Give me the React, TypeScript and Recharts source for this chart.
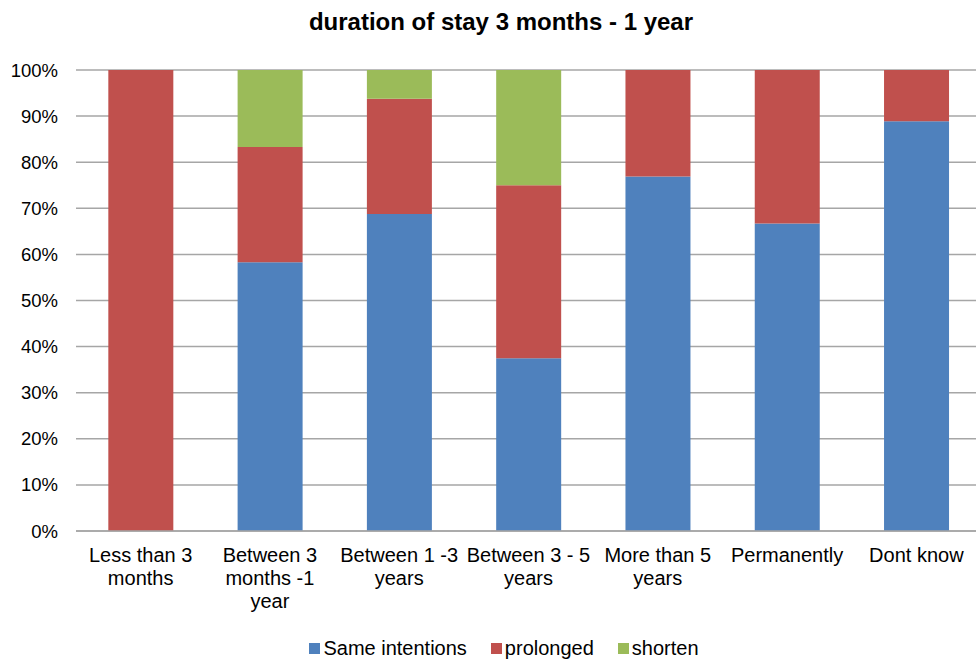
import {
  BarChart,
  Bar,
  XAxis,
  YAxis,
  CartesianGrid,
  Legend,
} from "recharts";

const categories = [
  "Less than 3\nmonths",
  "Between 3\nmonths -1\nyear",
  "Between 1 -3\nyears",
  "Between 3 - 5\nyears",
  "More than 5\nyears",
  "Permanently",
  "Dont know",
];
const sameIntentions = [0, 58.3, 68.75, 37.5, 76.9, 66.7, 88.9];
const prolonged = [100, 25, 25, 37.5, 23.1, 33.3, 11.1];
const shorten = [0, 16.7, 6.25, 25, 0, 0, 0];
const yTicks = [0, 10, 20, 30, 40, 50, 60, 70, 80, 90, 100];

const data = categories.map((c, i) => ({
  name: c,
  same: sameIntentions[i],
  prolonged: prolonged[i],
  shorten: shorten[i],
}));

const font = "'Liberation Sans', Arial, sans-serif";

const series = [
  { key: "same", label: "Same intentions", color: "#4F81BD" },
  { key: "prolonged", label: "prolonged", color: "#C0504D" },
  { key: "shorten", label: "shorten", color: "#9BBB59" },
];

function CategoryTick(props: any) {
  const { x, y, payload } = props;
  const lines = String(payload.value).split("\n");
  return (
    <text x={x} y={y} textAnchor="middle" fill="#000" fontSize={20} fontFamily={font}>
      {lines.map((l, i) => (
        <tspan key={i} x={x} dy={23}>
          {l}
        </tspan>
      ))}
    </text>
  );
}

function LegendContent() {
  return (
    <div
      style={{
        display: "flex",
        justifyContent: "center",
        gap: 24,
        fontFamily: font,
        fontSize: 20,
        paddingTop: 6,
        paddingLeft: 32,
        width: 976,
        boxSizing: "border-box",
      }}
    >
      {series.map((s) => (
        <span key={s.key} style={{ display: "flex", alignItems: "center" }}>
          <span
            style={{
              width: 11,
              height: 11,
              background: s.color,
              display: "inline-block",
              marginRight: 3,
            }}
          />
          {s.label}
        </span>
      ))}
    </div>
  );
}

export default function App() {
  return (
    <div
      style={{
        position: "absolute",
        left: 0,
        top: 0,
        width: 976,
        height: 664,
        overflow: "hidden",
        background: "#fff",
      }}
    >
      <div
        style={{
          position: "absolute",
          left: 501,
          top: 8,
          transform: "translateX(-50%)",
          fontFamily: font,
          fontWeight: "bold",
          fontSize: 24,
          whiteSpace: "nowrap",
          zIndex: 1,
        }}
      >
        duration of stay 3 months - 1 year
      </div>
      <BarChart
        width={981}
        height={664}
        data={data}
        margin={{ top: 70, right: 0, bottom: 0, left: 0 }}
        barCategoryGap="25%"
      >
        <CartesianGrid vertical={false} stroke="#a6a6a6" strokeWidth={1.5} />
        <XAxis
          dataKey="name"
          height={100}
          interval={0}
          tickLine={false}
          axisLine={{ stroke: "#a6a6a6", strokeWidth: 1.5 }}
          tick={<CategoryTick />}
        />
        <YAxis
          width={76}
          domain={[0, 100]}
          ticks={yTicks}
          tickFormatter={(v: number) => `${v}%`}
          axisLine={false}
          tickLine={false}
          tickMargin={12}
          tick={{ fill: "#000", fontSize: 18.5, fontFamily: font }}
        />
        <Legend
          verticalAlign="bottom"
          height={33}
          wrapperStyle={{ left: 0, width: 976 }}
          content={<LegendContent />}
        />
        {series.map((s) => (
          <Bar
            key={s.key}
            dataKey={s.key}
            stackId="a"
            fill={s.color}
            isAnimationActive={false}
          />
        ))}
      </BarChart>
    </div>
  );
}
